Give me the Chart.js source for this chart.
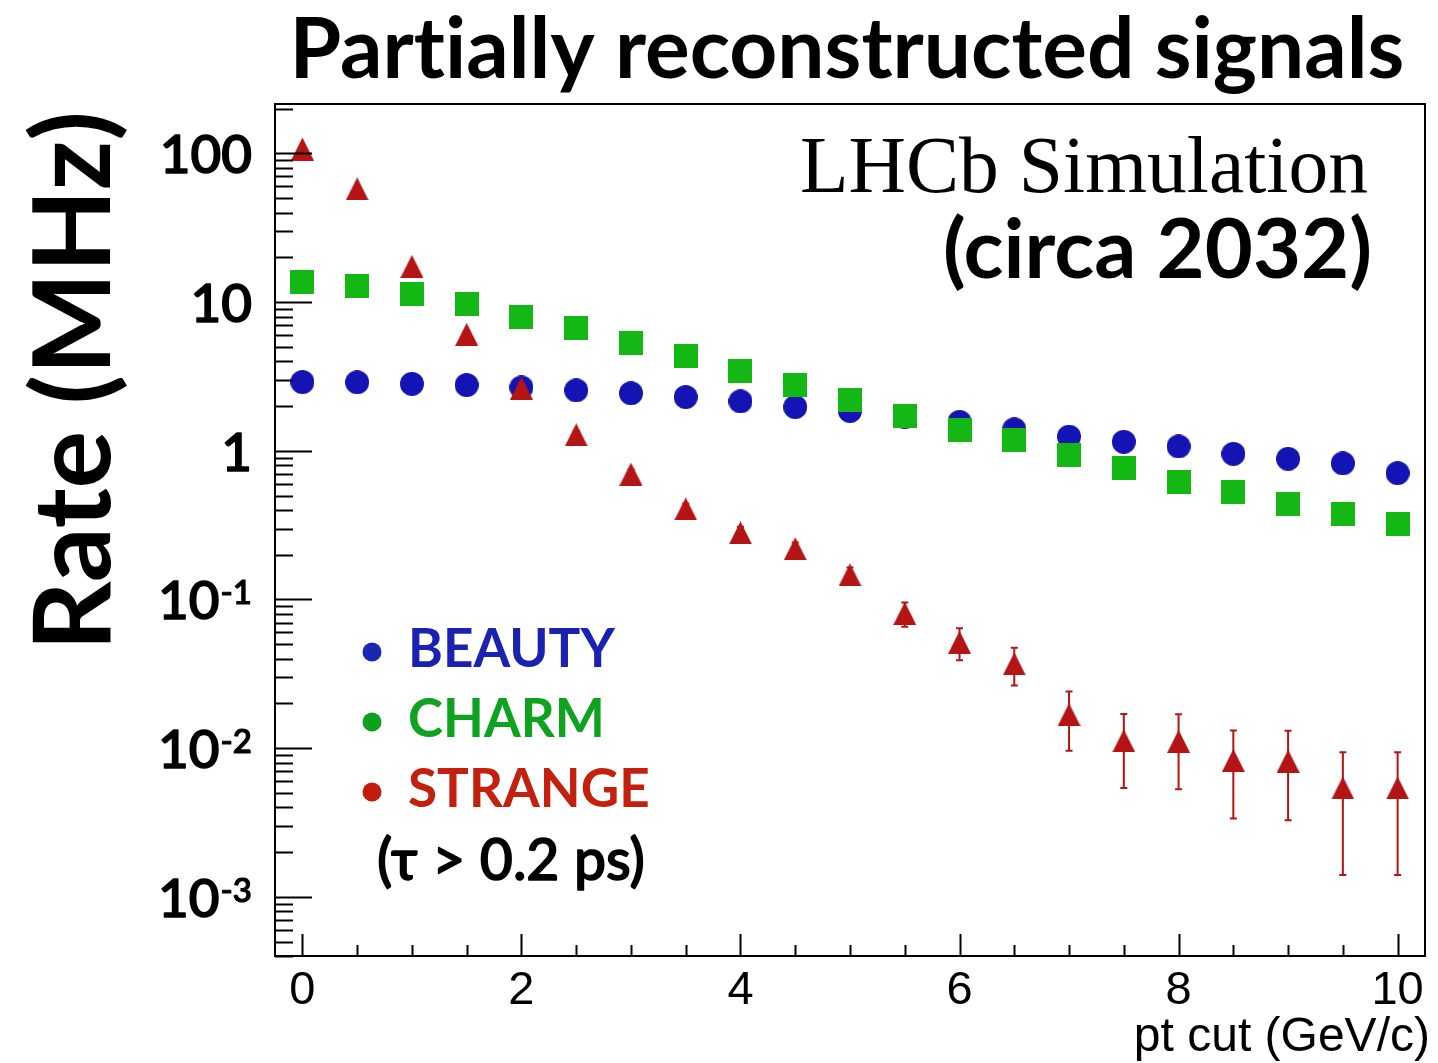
<!DOCTYPE html>
<html><head><meta charset="utf-8">
<script src="https://cdn.jsdelivr.net/npm/chart.js@4/dist/chart.umd.min.js"></script>
<style>html,body{margin:0;padding:0;background:#fff;overflow:hidden}#wrap{position:relative;width:1438px;height:1063px}</style>
</head><body><div id="wrap"><canvas id="c" width="1438" height="1063"></canvas></div>
<script>
// ---- data ----
const ptCuts = [0, 0.5, 1, 1.5, 2, 2.5, 3, 3.5, 4, 4.5, 5, 5.5, 6, 6.5, 7, 7.5, 8, 8.5, 9, 9.5, 10];
const beautyRate = [2.90, 2.89, 2.82, 2.77, 2.67, 2.55, 2.44, 2.30, 2.15, 1.97, 1.855, 1.70, 1.565, 1.395, 1.246, 1.15, 1.07, 0.954, 0.884, 0.823, 0.708];
const charmRate = [13.6, 12.8, 11.3, 9.7, 7.92, 6.68, 5.30, 4.34, 3.43, 2.77, 2.19, 1.71, 1.378, 1.18, 0.935, 0.765, 0.616, 0.528, 0.438, 0.375, 0.321];
const strangeRate = [107, 57.7, 17.4, 6.07, 2.63, 1.28, 0.697, 0.406, 0.2805, 0.2193, 0.1463, 0.0806, 0.0515, 0.0369, 0.0168, 0.0112, 0.0111, 0.00826, 0.00817, 0.0054, 0.0054];
const strangeErr = [1.5, 1.0, 0.5, 0.3, 0.15, 0.08, 0.05, 0.035, 0.028, 0.022, 0.018, 0.015, 0.0125, 0.0105, 0.0072, 0.0058, 0.0058, 0.0049, 0.0049, 0.0040, 0.0040];

const xRange = [-0.25, 10.25];
const yRange = [0.0004, 215];
const xMajorTicks = [0, 2, 4, 6, 8, 10];
const xTickLabels = ['0', '2', '4', '6', '8', '10'];
const xMinorTicks = [0.5, 1, 1.5, 2.5, 3, 3.5, 4.5, 5, 5.5, 6.5, 7, 7.5, 8.5, 9, 9.5];
const yMajorTicks = [0.001, 0.01, 0.1, 1, 10, 100];
const yTickBase = ['10', '10', '10', '1', '10', '100'];
const yTickExp = ['-3', '-2', '-1', '', '', ''];

const titleText = 'Partially reconstructed signals';
const xTitle = 'pt cut (GeV/c)';
const yTitle = 'Rate (MHz)';
const legendLabels = ['BEAUTY', 'CHARM', 'STRANGE'];
const legendNote = '(τ > 0.2 ps)';
const stampLine1 = 'LHCb Simulation';
const stampLine2 = '(circa 2032)';

// ---- styles ----
const COL_B = '#1414b4', COL_C = '#14b814', COL_S = '#b41414';
const LEG_DOT = ['#1a26b0', '#0ca01e', '#c41c0c'];
const LEG_TXT = ['#1b22b2', '#0ea21e', '#c4200e'];
const SANS = 'Lato, "Open Sans", sans-serif';

function markerCanvas(kind, color, size) {
  const c = document.createElement('canvas');
  c.width = size; c.height = size;
  const g = c.getContext('2d');
  g.fillStyle = color;
  g.beginPath();
  if (kind === 'circle') g.arc(size / 2, size / 2, size / 2, 0, Math.PI * 2);
  else if (kind === 'square') g.rect(0, 0, size, size);
  else { g.moveTo(size / 2, 0); g.lineTo(size, size); g.lineTo(0, size); g.closePath(); }
  g.fill();
  return c;
}
const mkCircle = markerCanvas('circle', COL_B, 24);
const mkSquare = markerCanvas('square', COL_C, 24);
const mkTri = markerCanvas('tri', COL_S, 23);

const toXY = (ys) => ptCuts.map((x, i) => ({ x: x, y: ys[i] }));

function fitFont(ctx, text, weight, family, targetW, guess) {
  ctx.font = weight + ' ' + guess + 'px ' + family;
  const w = ctx.measureText(text).width;
  return guess * targetW / w;
}
// medium-weight text: fill plus a thin stroke of the same colour
function medText(ctx, t, x, y, lw) {
  ctx.fillText(t, x, y);
  ctx.save();
  ctx.strokeStyle = ctx.fillStyle; ctx.lineWidth = lw; ctx.lineJoin = 'round';
  ctx.strokeText(t, x, y);
  ctx.restore();
}

const errorBars = {
  id: 'errorBars',
  beforeDatasetsDraw(chart) {
    const ctx = chart.ctx, xs = chart.scales.x, ys = chart.scales.y;
    ctx.save();
    ctx.strokeStyle = COL_S; ctx.lineWidth = 2;
    ptCuts.forEach((x, i) => {
      const v = strangeRate[i], e = strangeErr[i];
      const px = xs.getPixelForValue(x);
      const yTop = ys.getPixelForValue(v + e);
      const yBot = v - e > 0 ? ys.getPixelForValue(v - e) : chart.chartArea.bottom;
      ctx.beginPath();
      ctx.moveTo(px, yTop); ctx.lineTo(px, yBot);
      ctx.moveTo(px - 3.5, yTop); ctx.lineTo(px + 3.5, yTop);
      ctx.moveTo(px - 3.5, yBot); ctx.lineTo(px + 3.5, yBot);
      ctx.stroke();
    });
    ctx.restore();
  }
};

const decor = {
  id: 'decor',
  afterDraw(chart) {
    const ctx = chart.ctx, a = chart.chartArea, xs = chart.scales.x, ys = chart.scales.y;
    ctx.save();
    try { ctx.letterSpacing = '0.01px'; } catch (e) {}
    // frame
    ctx.strokeStyle = '#000'; ctx.lineWidth = 2;
    ctx.strokeRect(a.left, a.top, a.right - a.left, a.bottom - a.top);
    // ticks (inward)
    ctx.beginPath();
    for (let d = -4; d <= 2; d++) {
      for (let m = 1; m <= 9; m++) {
        const v = m * Math.pow(10, d);
        if (v < yRange[0] || v > yRange[1]) continue;
        const py = Math.round(ys.getPixelForValue(v)) + 0.5;
        const len = m === 1 ? 37 : 18;
        ctx.moveTo(a.left, py); ctx.lineTo(a.left + len, py);
      }
    }
    xMajorTicks.forEach(v => { const px = Math.round(xs.getPixelForValue(v)) + 0.5; ctx.moveTo(px, a.bottom); ctx.lineTo(px, a.bottom - 22); });
    xMinorTicks.forEach(v => { const px = Math.round(xs.getPixelForValue(v)) + 0.5; ctx.moveTo(px, a.bottom); ctx.lineTo(px, a.bottom - 11); });
    ctx.stroke();

    // x tick labels
    ctx.fillStyle = '#000';
    ctx.font = '47px "Liberation Sans", Arial, sans-serif';
    ctx.textAlign = 'center'; ctx.textBaseline = 'alphabetic';
    xMajorTicks.forEach((v, i) => ctx.fillText(xTickLabels[i], xs.getPixelForValue(v), 1004));
    // x title
    ctx.font = '48px "Liberation Sans", Arial, sans-serif';
    ctx.textAlign = 'right';
    ctx.fillText(xTitle, 1430, 1051);

    // y tick labels
    yMajorTicks.forEach((v, i) => {
      const py = ys.getPixelForValue(v);
      const base = yTickBase[i], ex = yTickExp[i];
      const right = 252;
      ctx.textAlign = 'right';
      if (ex) {
        ctx.font = '500 33px ' + SANS;
        const ew = ctx.measureText(ex).width;
        medText(ctx, ex, right, py + 5, 1.2);
        ctx.font = '500 53px ' + SANS;
        medText(ctx, base, right - ew - 1, py + 20, 1.6);
      } else {
        ctx.font = '500 53px ' + SANS;
        medText(ctx, base, right, py + 20, 1.6);
      }
    });

    // title
    ctx.textAlign = 'center';
    let fs = fitFont(ctx, titleText, '700', SANS, 1115, 80);
    ctx.font = '700 ' + fs + 'px ' + SANS;
    ctx.fillText(titleText, 847, 78);

    // y title
    ctx.save();
    ctx.translate(110, 381);
    ctx.rotate(-Math.PI / 2);
    fs = fitFont(ctx, yTitle, '700', SANS, 540, 118);
    ctx.font = '700 ' + fs + 'px ' + SANS;
    ctx.textAlign = 'center';
    ctx.fillText(yTitle, 0, 0);
    ctx.restore();

    // LHCb stamp
    ctx.textAlign = 'right';
    ctx.font = '80px "Liberation Serif", "Times New Roman", serif';
    const w1 = ctx.measureText(stampLine1).width;
    ctx.save();
    ctx.translate(1368, 192);
    ctx.scale(568 / w1, 1);
    ctx.fillText(stampLine1, 0, 0);
    ctx.restore();
    fs = fitFont(ctx, stampLine2, '700', SANS, 429, 75);
    ctx.font = '700 ' + fs + 'px ' + SANS;
    ctx.fillText(stampLine2, 1372, 278);

    // legend
    const rowY = [652, 722, 792];
    legendLabels.forEach((t, i) => {
      ctx.fillStyle = LEG_DOT[i];
      ctx.beginPath(); ctx.arc(372, rowY[i], 9.5, 0, Math.PI * 2); ctx.fill();
      ctx.fillStyle = LEG_TXT[i];
      ctx.font = '700 53px ' + SANS;
      ctx.textAlign = 'left';
      ctx.fillText(t, 408, rowY[i] + 15);
    });
    ctx.fillStyle = '#000';
    fs = fitFont(ctx, legendNote, '500', SANS, 268, 50);
    ctx.font = '500 ' + fs + 'px ' + SANS;
    ctx.textAlign = 'left';
    medText(ctx, legendNote, 377, 880, 1.5);
    ctx.restore();
  }
};

new Chart(document.getElementById('c'), {
  type: 'scatter',
  data: {
    datasets: [
      { label: 'BEAUTY', data: toXY(beautyRate), pointStyle: mkCircle, radius: 12, order: 3, showLine: false },
      { label: 'CHARM', data: toXY(charmRate), pointStyle: mkSquare, radius: 12, order: 2, showLine: false },
      { label: 'STRANGE', data: toXY(strangeRate), pointStyle: mkTri, radius: 12, order: 1, showLine: false }
    ]
  },
  options: {
    responsive: false, devicePixelRatio: 1, animation: false,
    layout: { padding: { left: 275, top: 104, right: 11, bottom: 107 } },
    plugins: { legend: { display: false }, tooltip: { enabled: false }, title: { display: false } },
    scales: {
      x: { type: 'linear', min: xRange[0], max: xRange[1],
           ticks: { display: false }, grid: { display: false, drawTicks: false }, border: { display: false } },
      y: { type: 'logarithmic', min: yRange[0], max: yRange[1],
           ticks: { display: false }, grid: { display: false, drawTicks: false }, border: { display: false } }
    }
  },
  plugins: [errorBars, decor]
});
</script>
</body></html>
